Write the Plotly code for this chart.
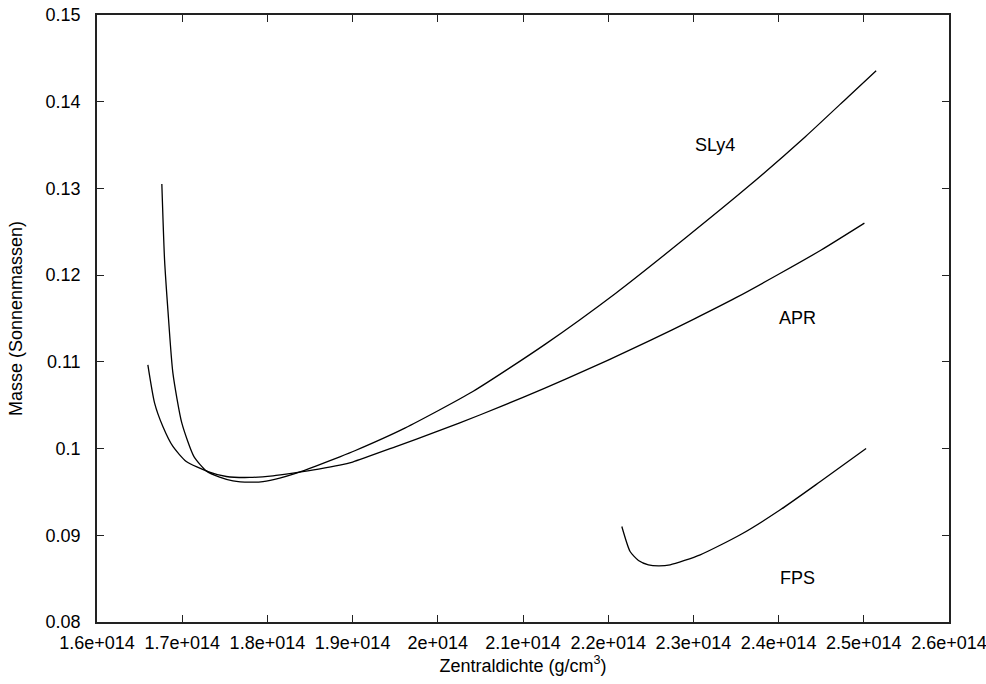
import plotly.graph_objects as go

# Central density (g/cm^3) vs. mass (solar masses) for three equations of state
sly4_rho = [1.6761e14, 1.6793e14, 1.6832e14, 1.6891e14, 1.6996e14, 1.7138e14,
            1.7283e14, 1.7439e14, 1.7596e14, 1.7792e14, 1.7948e14, 1.8145e14,
            1.8341e14, 1.8576e14, 1.8850e14, 1.9026e14, 1.9613e14, 2.0411e14,
            2.1250e14, 2.2089e14, 2.2928e14, 2.3643e14, 2.4314e14, 2.4818e14,
            2.5145e14]
sly4_mass = [0.13052, 0.12176, 0.11600, 0.10870, 0.10293, 0.09908,
             0.09743, 0.09671, 0.09628, 0.09613, 0.09620, 0.09660,
             0.09717, 0.09800, 0.09905, 0.09975, 0.10236, 0.10658,
             0.11196, 0.11792, 0.12445, 0.13021, 0.13597, 0.14058,
             0.14358]

apr_rho = [1.6597e14, 1.6676e14, 1.6773e14, 1.6891e14, 1.7048e14, 1.7302e14,
           1.7518e14, 1.7792e14, 1.8066e14, 1.8301e14, 1.8600e14, 1.8850e14,
           1.9000e14, 1.9500e14, 2.0000e14, 2.0500e14, 2.1000e14, 2.1500e14,
           2.2000e14, 2.2500e14, 2.3000e14, 2.3500e14, 2.4000e14, 2.4500e14,
           2.5007e14]
apr_mass = [0.10965, 0.10524, 0.10254, 0.10024, 0.09851, 0.09735,
            0.09678, 0.09667, 0.09686, 0.09717, 0.09762, 0.09808,
            0.09845, 0.10020, 0.10200, 0.10390, 0.10590, 0.10800,
            0.11020, 0.11250, 0.11490, 0.11740, 0.12010, 0.12290,
            0.12600]

fps_rho = [2.2160e14, 2.2257e14, 2.2355e14, 2.2472e14, 2.2590e14, 2.2727e14,
           2.3080e14, 2.3550e14, 2.4020e14, 2.4490e14, 2.5027e14]
fps_mass = [0.09101, 0.08813, 0.08710, 0.08660, 0.08648, 0.08660,
            0.08775, 0.09006, 0.09294, 0.09620, 0.10000]

curve_names = ["SLy4", "APR", "FPS"]
label_rho = [2.3256e14, 2.422e14, 2.4216e14]
label_mass = [0.1350, 0.1151, 0.0851]

x_tickvals = [1.6e14, 1.7e14, 1.8e14, 1.9e14, 2.0e14, 2.1e14,
              2.2e14, 2.3e14, 2.4e14, 2.5e14, 2.6e14]
x_ticktext = ["1.6e+014", "1.7e+014", "1.8e+014", "1.9e+014", "2e+014", "2.1e+014",
              "2.2e+014", "2.3e+014", "2.4e+014", "2.5e+014", "2.6e+014"]
y_tickvals = [0.08, 0.09, 0.10, 0.11, 0.12, 0.13, 0.14, 0.15]
y_ticktext = ["0.08", "0.09", "0.1", "0.11", "0.12", "0.13", "0.14", "0.15"]

FONT = "Liberation Sans, Arial, Helvetica, sans-serif"
FSIZE = 18

fig = go.Figure()
for name, xs, ys in zip(curve_names,
                        [sly4_rho, apr_rho, fps_rho],
                        [sly4_mass, apr_mass, fps_mass]):
    fig.add_trace(go.Scatter(x=xs, y=ys, mode="lines", name=name,
                             line=dict(color="black", width=1.3,
                                       shape="spline", smoothing=0.6),
                             showlegend=False))

for name, lx, ly in zip(curve_names, label_rho, label_mass):
    fig.add_annotation(x=lx, y=ly, text=name, showarrow=False,
                       font=dict(family=FONT, size=FSIZE, color="black"),
                       xanchor="center", yanchor="middle")

axis_common = dict(
    showline=True, linecolor="#222222", linewidth=1.5, mirror="allticks",
    ticks="inside", ticklen=7, tickwidth=1, tickcolor="#222222",
    showgrid=False, zeroline=False, automargin=False,
    tickfont=dict(family=FONT, size=FSIZE, color="black"),
)

fig.update_xaxes(range=[1.6e14, 2.6e14], tickmode="array",
                 tickvals=x_tickvals, ticktext=x_ticktext,
                 ticklabeloverflow="allow",
                 title=dict(text="Zentraldichte (g/cm<sup>3</sup>)", standoff=6,
                            font=dict(family=FONT, size=FSIZE, color="black")),
                 ticklabelstandoff=4,
                 **axis_common)
fig.update_yaxes(range=[0.08, 0.15], tickmode="array",
                 tickvals=y_tickvals, ticktext=y_ticktext,
                 title=dict(text="Masse (Sonnenmassen)", standoff=18,
                            font=dict(family=FONT, size=FSIZE, color="black")),
                 ticklabelstandoff=11,
                 **axis_common)

fig.update_layout(
    width=986, height=684,
    margin=dict(l=97, r=37, t=15, b=62),
    paper_bgcolor="white", plot_bgcolor="white",
    font=dict(family=FONT, size=FSIZE, color="black"),
)

fig.write_html("out.html")
